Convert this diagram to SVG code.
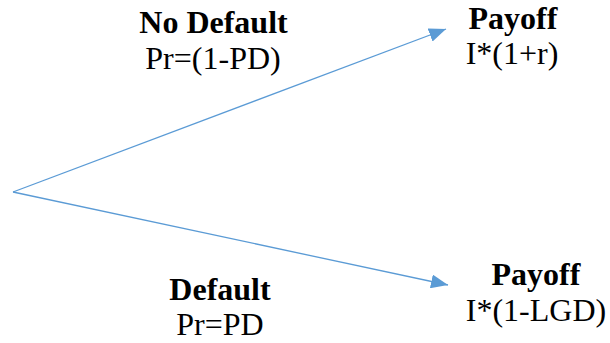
<svg xmlns="http://www.w3.org/2000/svg" width="610" height="343" viewBox="0 0 610 343">
<style>
.t{font-family:'Liberation Serif','Times New Roman',serif;font-size:32px;fill:#000;text-anchor:middle}
.b{font-weight:bold}
.c{stroke:#5B9BD5;stroke-width:1.3;fill:none}
</style>
<defs>
<marker id="ah" markerUnits="userSpaceOnUse" markerWidth="18" markerHeight="14" refX="17" refY="7" orient="auto">
<path d="M0,0 L17,7 L0,14 z" fill="#5B9BD5"/>
</marker>
</defs>
<rect width="610" height="343" fill="#fff"/>
<g id="connectors">
<line class="c" x1="13" y1="192" x2="446" y2="29" marker-end="url(#ah)"/>
<line class="c" x1="13" y1="192" x2="448" y2="285" marker-end="url(#ah)"/>
</g>
<g id="label-nodefault">
<text class="t b" x="213.5" y="33">No Default</text>
<text class="t" x="213" y="69">Pr=(1-PD)</text>
</g>
<g id="payoff-top">
<text class="t b" x="513" y="29">Payoff</text>
<text class="t" x="512" y="64">I*(1+r)</text>
</g>
<g id="label-default">
<text class="t b" x="220" y="300">Default</text>
<text class="t" x="220" y="335">Pr=PD</text>
</g>
<g id="payoff-bottom">
<text class="t b" x="536" y="285">Payoff</text>
<text class="t" x="536" y="321">I*(1-LGD)</text>
</g>
</svg>
